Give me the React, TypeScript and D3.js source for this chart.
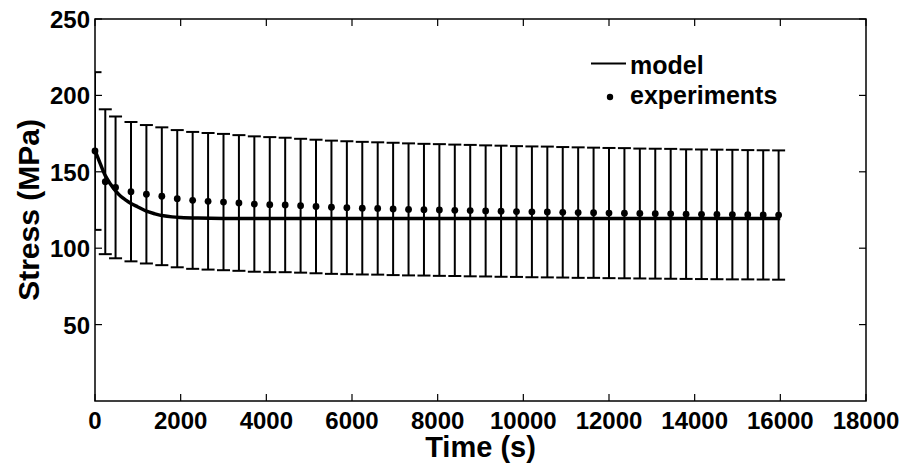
import React from "react";
import * as d3 from "d3";

// Measured stress relaxation: sample times (s), mean stress and half-width of the error bars (MPa)
const expTime = [
  0, 240, 480, 840, 1200, 1560, 1920, 2280, 2640, 3000, 3360, 3720, 4080, 4440, 4800,
  5160, 5520, 5880, 6240, 6600, 6960, 7320, 7680, 8040, 8400, 8760, 9120, 9480, 9840,
  10200, 10560, 10920, 11280, 11640, 12000, 12360, 12720, 13080, 13440, 13800, 14160,
  14520, 14880, 15240, 15600, 15960,
];
const expStress = [
  163.6, 143.5, 139.8, 137.0, 135.3, 134.0, 132.4, 131.3, 130.7, 130.2, 129.6, 128.9, 128.5, 128.3, 127.8,
  127.3, 126.8, 126.5, 126.2, 126.0, 125.7, 125.4, 125.2, 125.0, 124.8, 124.6, 124.4, 124.2, 124.0,
  123.8, 123.7, 123.5, 123.3, 123.2, 123.0, 122.9, 122.7, 122.6, 122.5, 122.3, 122.2,
  122.1, 122.0, 121.9, 121.8, 121.7,
];
const expError = [
  51.6, 47.4, 46.4, 45.6, 45.3, 45.1, 44.9, 44.8, 44.7, 44.6, 44.4, 44.3, 44.2, 44.0, 43.8,
  43.7, 43.6, 43.5, 43.4, 43.3, 43.3, 43.2, 43.1, 43.1, 43.0, 43.0, 42.9, 42.9, 42.8,
  42.8, 42.8, 42.7, 42.7, 42.6, 42.6, 42.6, 42.5, 42.5, 42.5, 42.4, 42.4,
  42.4, 42.4, 42.3, 42.3, 42.3,
];

// Model prediction
const modelTime = [0, 120, 240, 360, 480, 600, 720, 840, 1000, 1200, 1400, 1600, 1800, 2000, 2400, 3000, 16000];
const modelStress = [164, 155.5, 147.5, 142, 137.5, 134, 131.5, 129.3, 127, 124.2, 122.5, 121.2, 120.5, 120.1, 119.7, 119.5, 119.5];

const xTicks = [0, 2000, 4000, 6000, 8000, 10000, 12000, 14000, 16000, 18000];
const yTicks = [50, 100, 150, 200, 250];

const legendLabels = ["model", "experiments"];

const W = 904;
const H = 464;
const M = { left: 95, top: 19, right: 866, bottom: 401 };
const FONT = "'Liberation Sans', Arial, Helvetica, sans-serif";

export default function App() {
  const x = d3.scaleLinear().domain([0, 18000]).range([M.left, M.right]);
  const y = d3.scaleLinear().domain([0, 250]).range([M.bottom, M.top]);

  const model = modelTime.map((t, i) => [t, modelStress[i]] as [number, number]);
  const line = d3
    .line<[number, number]>()
    .x((d) => x(d[0]))
    .y((d) => y(d[1]))
    .curve(d3.curveMonotoneX);

  const capHalf = 6.5;
  const tickLen = 7;

  return (
    <svg
      width={W}
      height={H}
      style={{ position: "absolute", left: 0, top: 0, background: "#fff" }}
      fontFamily={FONT}
    >
      <defs>
        <clipPath id="plotArea">
          <rect x={M.left} y={M.top} width={M.right - M.left} height={M.bottom - M.top} />
        </clipPath>
      </defs>
      <rect width={W} height={H} fill="#fff" />

      {/* error bars */}
      <g clipPath="url(#plotArea)" stroke="#000" strokeWidth={2} fill="none">
        {expTime.map((t, i) => {
          const cx = x(t);
          const hi = y(expStress[i] + expError[i]);
          const lo = y(expStress[i] - expError[i]);
          return (
            <g key={t}>
              <line x1={cx} x2={cx} y1={hi} y2={lo} />
              <line x1={cx - capHalf} x2={cx + capHalf} y1={hi} y2={hi} />
              <line x1={cx - capHalf} x2={cx + capHalf} y1={lo} y2={lo} />
            </g>
          );
        })}
      </g>

      {/* model curve */}
      <path d={line(model) ?? ""} fill="none" stroke="#000" strokeWidth={3.5} />

      {/* experimental means */}
      <g fill="#000">
        {expTime.map((t, i) => (
          <circle key={t} cx={x(t)} cy={y(expStress[i])} r={3.4} />
        ))}
      </g>

      {/* axes box */}
      <rect
        x={M.left}
        y={M.top}
        width={M.right - M.left}
        height={M.bottom - M.top}
        fill="none"
        stroke="#000"
        strokeWidth={1.5}
      />

      {/* ticks */}
      <g stroke="#000" strokeWidth={1.2}>
        {xTicks.map((t) => (
          <g key={t}>
            <line x1={x(t)} x2={x(t)} y1={M.bottom} y2={M.bottom - tickLen} />
            <line x1={x(t)} x2={x(t)} y1={M.top} y2={M.top + tickLen} />
          </g>
        ))}
        {yTicks.map((t) => (
          <g key={t}>
            <line x1={M.left} x2={M.left + tickLen} y1={y(t)} y2={y(t)} />
            <line x1={M.right} x2={M.right - tickLen} y1={y(t)} y2={y(t)} />
          </g>
        ))}
      </g>

      {/* tick labels */}
      <g fontSize={24} fontWeight="bold" fill="#000">
        {xTicks.map((t) => (
          <text key={t} x={x(t)} y={428.5} textAnchor="middle">
            {t}
          </text>
        ))}
        {yTicks.map((t) => (
          <text key={t} x={90} y={y(t) + 9} textAnchor="end">
            {t}
          </text>
        ))}
      </g>

      {/* axis titles */}
      <text
        x={(M.left + M.right) / 2}
        y={457}
        textAnchor="middle"
        fontSize={29}
        fontWeight="bold"
        fill="#000"
      >
        Time (s)
      </text>
      <text
        transform={`translate(39,${(M.top + M.bottom) / 2}) rotate(-90)`}
        textAnchor="middle"
        fontSize={30}
        fontWeight="bold"
        fill="#000"
      >
        Stress (MPa)
      </text>

      {/* legend */}
      <g fontSize={25} fontWeight="bold" fill="#000">
        <line x1={591} x2={626} y1={63.5} y2={63.5} stroke="#000" strokeWidth={2} />
        <text x={630} y={74}>
          {legendLabels[0]}
        </text>
        <circle cx={610} cy={97} r={3.2} />
        <text x={630} y={103.5}>
          {legendLabels[1]}
        </text>
      </g>
    </svg>
  );
}
